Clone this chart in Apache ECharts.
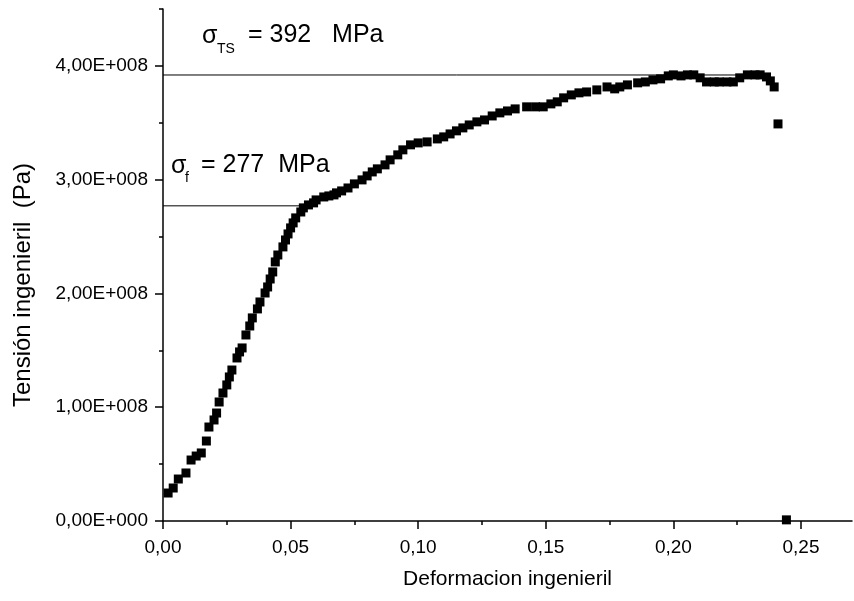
<!DOCTYPE html>
<html>
<head>
<meta charset="utf-8">
<title>Tension vs deformacion</title>
<script src="https://cdn.jsdelivr.net/npm/echarts@6.0.0/dist/echarts.min.js"></script>
<style>
  html, body { margin: 0; padding: 0; background: #fff; }
  #chart { width: 854px; height: 601px; }
</style>
</head>
<body>
<div id="chart"></div>
<script>
// datos (deformacion, tension en MPa)
const strain = [0.002, 0.004, 0.006, 0.009, 0.011, 0.013, 0.015, 0.017, 0.018, 0.020, 0.021, 0.022, 0.0235, 0.025, 0.026, 0.027, 0.029, 0.030, 0.031, 0.0325,
  0.034, 0.035, 0.037, 0.038, 0.040, 0.041, 0.042, 0.043, 0.044, 0.045, 0.047, 0.048, 0.049, 0.050, 0.051, 0.052, 0.054, 0.055, 0.057, 0.059,
  0.060, 0.063, 0.065, 0.067, 0.068, 0.070, 0.0725, 0.075, 0.078, 0.080, 0.082, 0.084, 0.087, 0.089, 0.092, 0.094, 0.097, 0.100, 0.1035, 0.1075,
  0.110, 0.1125, 0.115, 0.1175, 0.120, 0.123, 0.126, 0.129, 0.132, 0.135, 0.138, 0.1425, 0.146, 0.149, 0.152, 0.1545, 0.157, 0.160, 0.163, 0.166,
  0.170, 0.174, 0.177, 0.179, 0.182, 0.186, 0.189, 0.192, 0.195, 0.198, 0.200, 0.203, 0.2055, 0.208, 0.2105, 0.213, 0.216, 0.218, 0.221, 0.2235,
  0.226, 0.229, 0.232, 0.234, 0.2365, 0.238, 0.2395, 0.241, 0.2443]
const stressMPa = [24.6, 29, 36.9, 42.2, 53.6, 57.1, 59.8, 70.3, 82.6, 88.8, 94.9, 104.6, 112.5, 119.6, 126.6, 132.7, 143.3, 148.6, 152.1, 163.5,
  171.4, 178.5, 186.4, 192.5, 200.4, 205.7, 212.7, 218.9, 227.7, 233.8, 240.9, 247, 252.3, 257.6, 262, 266.4, 271.6, 275.2, 277.8, 279.6,
  282.2, 284.8, 285.7, 286.6, 288.4, 290.1, 292.7, 296.3, 299.8, 303.3, 306.8, 309.5, 313, 317.4, 321.8, 326.2, 330.6, 332.3, 333.2, 335.8,
  337.6, 340.2, 342.9, 345.5, 348.1, 350.8, 352.5, 356, 358.7, 360.4, 362.2, 364, 364, 364, 366.6, 368.4, 371.9, 374.5, 376.3, 377.1,
  378.9, 381.5, 379.8, 381.5, 383.3, 385.1, 385.9, 387.7, 388.6, 391.2, 392.1, 391.2, 392.1, 392.1, 389.5, 385.9, 385.9, 385.9, 385.9, 385.9,
  389.5, 392.1, 392.1, 392.1, 390.3, 386.8, 381.5, 349, 1]

// lineas de referencia (MPa) y hasta donde llegan en x
const sigmaTS = 392
const sigmaF = 277
const tsLineEnd = 0.23
const fLineEnd = 0.054

// ticks
const xTicks = [0, 0.05, 0.10, 0.15, 0.20, 0.25]
const xMinorTicks = [0.025, 0.075, 0.125, 0.175, 0.225]
const yTicks = [0, 1e8, 2e8, 3e8, 4e8]
const yMinorTicks = [0.5e8, 1.5e8, 2.5e8, 3.5e8, 4.5e8]

const FONT = 'Liberation Sans, Arial, sans-serif'

const points = strain.map((x, i) => [x, stressMPa[i] * 1e6])

const chart = echarts.init(document.getElementById('chart'), null, { renderer: 'canvas' })

const fmtY = (v) => {
  const s = (v / 1e8).toFixed(2).replace('.', ',')
  return s + (v === 0 ? 'E+000' : 'E+008')
}
const fmtX = (v) => v.toFixed(2).replace('.', ',')

const axisLineStyle = { color: '#000', width: 1.5 }

chart.setOption({
  animation: false,
  backgroundColor: '#fff',
  grid: { left: 163, right: 2, top: 9, bottom: 80 },
  xAxis: [
    {
      type: 'value',
      min: 0,
      max: 0.27,
      name: 'Deformacion ingenieril',
      nameLocation: 'middle',
      nameGap: 48,
      nameTextStyle: { color: '#000', fontSize: 21, fontFamily: FONT },
      axisLine: { lineStyle: axisLineStyle },
      axisTick: { customValues: xTicks, length: 8, lineStyle: axisLineStyle },
      axisLabel: { customValues: xTicks, formatter: fmtX, color: '#000', fontSize: 19, fontFamily: FONT, margin: 17 },
      splitLine: { show: false }
    },
    {
      type: 'value',
      position: 'bottom',
      min: 0,
      max: 0.27,
      axisLine: { show: false },
      axisTick: { customValues: xMinorTicks, length: 4, lineStyle: axisLineStyle },
      axisLabel: { show: false },
      splitLine: { show: false }
    }
  ],
  yAxis: [
    {
      type: 'value',
      min: 0,
      max: 4.5e8,
      name: 'Tensión ingenieril  (Pa)',
      nameLocation: 'middle',
      nameGap: 128,
      nameTextStyle: { color: '#000', fontSize: 24, fontFamily: FONT, padding: [0, 40, 0, 0] },
      axisLine: { lineStyle: axisLineStyle },
      axisTick: { customValues: yTicks, length: 8, lineStyle: axisLineStyle },
      axisLabel: { customValues: yTicks, formatter: fmtY, color: '#000', fontSize: 19, fontFamily: FONT, margin: 15 },
      splitLine: { show: false }
    },
    {
      type: 'value',
      position: 'left',
      min: 0,
      max: 4.5e8,
      axisLine: { show: false },
      axisTick: { customValues: yMinorTicks, length: 4, lineStyle: axisLineStyle },
      axisLabel: { show: false },
      splitLine: { show: false }
    }
  ],
  series: [
    {
      name: 'ts',
      type: 'line',
      z: 1,
      symbol: 'none',
      silent: true,
      lineStyle: { color: '#000', width: 1 },
      data: [[0, sigmaTS * 1e6], [tsLineEnd, sigmaTS * 1e6]]
    },
    {
      name: 'f',
      type: 'line',
      z: 1,
      symbol: 'none',
      silent: true,
      lineStyle: { color: '#000', width: 1 },
      data: [[0, sigmaF * 1e6], [fLineEnd, sigmaF * 1e6]]
    },
    {
      name: 'ensayo',
      type: 'scatter',
      z: 3,
      symbol: 'rect',
      symbolSize: 9,
      itemStyle: { color: '#000', opacity: 1 },
      data: points
    }
  ],
  graphic: [
    { type: 'text', left: 202, top: 24, style: { text: 'σ', fontSize: 25, fontFamily: FONT, fill: '#000' } },
    { type: 'text', left: 217, top: 42, style: { text: 'TS', fontSize: 14, fontFamily: FONT, fill: '#000' } },
    { type: 'text', left: 248, top: 23, style: { text: '= 392   MPa', fontSize: 25, fontFamily: FONT, fill: '#000' } },
    { type: 'text', left: 171, top: 154, style: { text: 'σ', fontSize: 25, fontFamily: FONT, fill: '#000' } },
    { type: 'text', left: 185, top: 171, style: { text: 'f', fontSize: 14, fontFamily: FONT, fill: '#000' } },
    { type: 'text', left: 201, top: 153, style: { text: '= 277  MPa', fontSize: 25, fontFamily: FONT, fill: '#000' } }
  ]
})

window.addEventListener('resize', () => chart.resize())
</script>
</body>
</html>
